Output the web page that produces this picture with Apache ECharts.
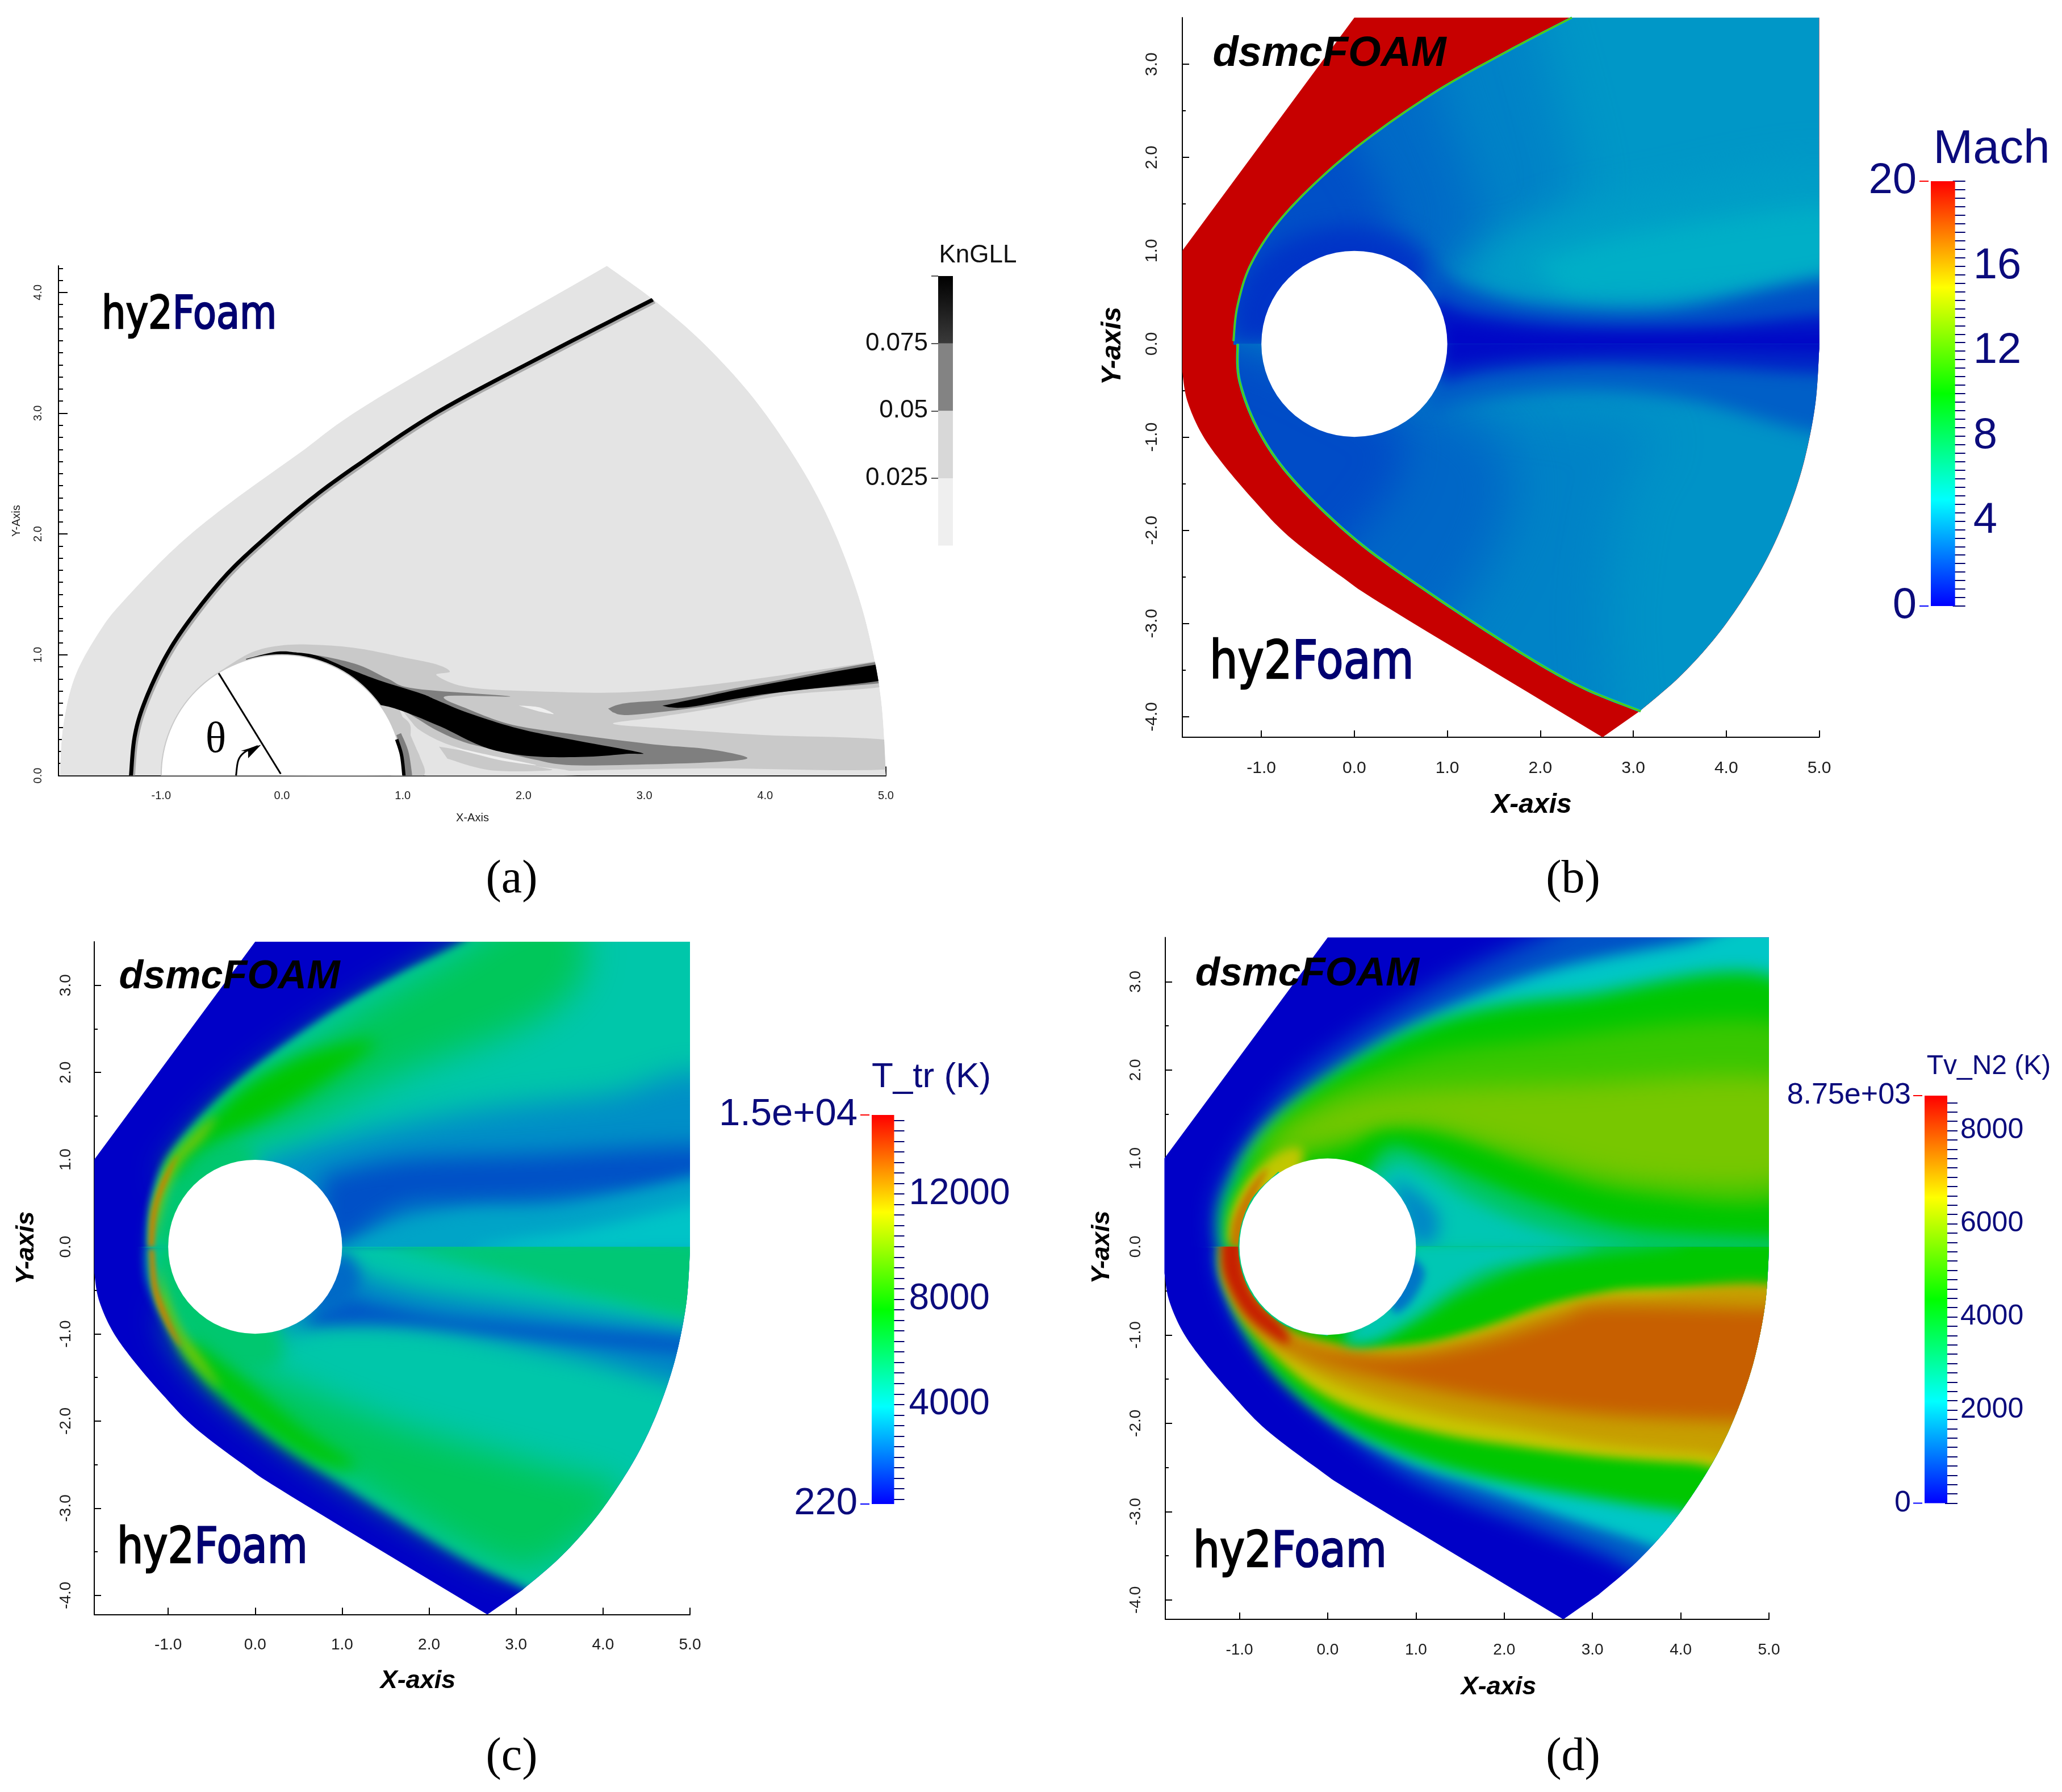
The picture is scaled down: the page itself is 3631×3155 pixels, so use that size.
<!DOCTYPE html>
<html>
<head>
<meta charset="utf-8">
<title>hy2Foam / dsmcFOAM cylinder flow</title>
<script src="https://cdn.jsdelivr.net/npm/echarts@6/dist/echarts.min.js"></script>
<style>
  html, body { margin: 0; padding: 0; background: #fff; }
  #chart { width: 3631px; height: 3155px; }
</style>
</head>
<body>
<div id="chart"></div>
<script>
// ---------- tick labels ----------
const xTicks = [-1, 0, 1, 2, 3, 4, 5]
const yTicksA = [0, 1, 2, 3, 4]
const yTicksFull = [-4, -3, -2, -1, 0, 1, 2, 3]
const yMinorFull = [-4, -3.5, -3, -2.5, -2, -1.5, -1, -0.5, 0, 0.5, 1, 1.5, 2, 2.5, 3]
const knLabels = [0.025, 0.05, 0.075]
const knBands = [0, 0.025, 0.05, 0.075, 0.1]
const machLabels = [4, 8, 12, 16]
const ttrLabels = [4000, 8000, 12000]
const tvLabels = [2000, 4000, 6000, 8000]

// ---------- shared geometry (x, y in cylinder radii) ----------
const outerUpper = [[-1.85, 1], [0, 3.5], [5, 3.5], [5, 0]]
const outerLower = [[-1.85, -0.3], [-1.8, -0.6], [-1.65, -0.95], [-1.42, -1.28], [-1.07, -1.69], [-0.7, -2.07], [-0.12, -2.51], [0.41, -2.86], [2.67, -4.22]]
const rightArc = [[3.07, -3.94], [3.5, -3.57], [3.9, -3.13], [4.25, -2.63], [4.5, -2.18], [4.7, -1.7], [4.85, -1.21], [4.96, -0.63], [5, -0.05]]

// ---------- (a) KnGLL, flat grey bands ----------
const knOuter = [[-1.84, 0], [-1.81, 0.42], [-1.71, 0.83], [-1.5, 1.21], [-1.3, 1.46], [-0.89, 1.88], [-0.48, 2.22], [0.13, 2.66], [0.8, 3.13], [2.69, 4.22]]
const knArc = [[2.69, 4.22], [3.1, 3.92], [3.5, 3.57], [3.9, 3.13], [4.25, 2.63], [4.5, 2.18], [4.7, 1.7], [4.85, 1.21], [4.96, 0.63], [5, 0]]
const knShock = [[-1.25, 0], [-1.22, 0.32], [-1.14, 0.6], [-0.97, 0.97], [-0.77, 1.28], [-0.48, 1.64], [-0.18, 1.93], [0.23, 2.28], [0.64, 2.58], [1.29, 3.01], [2.21, 3.5], [3.07, 3.94]]
const knBlob = [[-0.52, 0.86], [-0.25, 1.02], [0.02, 1.08], [0.34, 1.08], [0.65, 1.05], [1, 0.98], [1.28, 0.92], [1.39, 0.86], [1.28, 0.83], [1.55, 0.73], [2.18, 0.695], [2.85, 0.69], [3.53, 0.75], [4.2, 0.84], [4.9, 0.945], [5.1, 0.98], [5.1, 0.76], [4.2, 0.67], [3.53, 0.55], [3.08, 0.48], [2.74, 0.43], [3.17, 0.39], [3.98, 0.336], [5.1, 0.28], [5.1, 0.06], [3.53, 0.06], [2.4, 0.04], [0.9, 0], [0, 0]]
const knCut = [[0.95, 0.6], [1.06, 0.46], [1.15, 0.37], [1.37, 0.26], [1.73, 0.156], [2.09, 0.08], [2.36, 0.044], [2.4, 0], [1.17, 0], [1.14, 0.16]]
const knNearWall = [[0.88, 0.56], [1.05, 0.44], [1.07, 0.3], [1.14, 0.16], [1.17, 0], [0.9, 0]]
const knLobe = [[1.3, 0.24], [1.64, 0.18], [2.09, 0.08], [2.22, 0.044], [1.73, 0.044], [1.37, 0.14]]
const knStreak = [[1.42, 0.235], [1.78, 0.156], [2.11, 0.086], [1.82, 0.125], [1.48, 0.21]]
const knGrey = [[0.11, 1.02], [0.38, 0.98], [0.65, 0.91], [0.88, 0.8], [1.1, 0.72], [1.89, 0.656], [1.35, 0.656], [1.55, 0.547], [1.91, 0.42], [2.4, 0.344], [3.08, 0.258], [3.53, 0.219], [3.85, 0.15], [3.66, 0.117], [3.08, 0.094], [2.4, 0.086], [2.09, 0.133], [1.73, 0.22], [1.5, 0.28], [1.28, 0.375], [0.88, 0.594], [0.5, 0.6]]
const knBlack = [[-0.3, 0.965], [-0.05, 1.025], [0.11, 1.02], [0.3, 0.99], [0.54, 0.89], [0.8, 0.79], [1.15, 0.68], [1.28, 0.625], [1.55, 0.516], [1.955, 0.39], [2.4, 0.297], [2.97, 0.19], [2.85, 0.18], [2.54, 0.156], [2.13, 0.156], [1.82, 0.195], [1.6, 0.266], [1.28, 0.42], [0.84, 0.58], [0.4, 0.6]]
const knJetGrey = [[2.7, 0.555], [2.85, 0.6], [3.3, 0.64], [3.98, 0.766], [5.1, 0.96], [5.1, 0.79], [4.2, 0.7], [3.53, 0.578], [2.9, 0.503], [2.74, 0.523]]
const knJetBlack = [[3.15, 0.578], [3.44, 0.64], [3.98, 0.75], [5.1, 0.94], [5.1, 0.81], [3.98, 0.672], [3.39, 0.57], [3.2, 0.566]]
const knSliver = [[1.96, 0.58], [2.13, 0.565], [2.25, 0.51], [2.13, 0.53]]
const knWall = [[1.01, 0], [0.99, 0.17], [0.95, 0.3]]
const knWallGrey = [[1.05, 0], [1.02, 0.19], [0.96, 0.34]]
const thetaRay = [[-0.524, 0.847], [-0.01, 0.014]]
const thetaArc = [[-0.38, 0], [-0.36, 0.13], [-0.3, 0.2], [-0.2, 0.245]]
const thetaHead = [[-0.173, 0.255], [-0.34, 0.204], [-0.28, 0.2], [-0.28, 0.143]]

// ---------- (b) Mach ----------
const machShockUpper = [[-1.3, 0.03], [-1.255, 0.415], [-1.1, 0.88], [-0.73, 1.41], [-0.05, 2.05], [0.82, 2.67], [1.63, 3.13], [2.34, 3.5]]
const machShockLower = [[-1.255, 0], [-1.234, -0.4], [-1.03, -0.93], [-0.66, -1.456], [0.013, -2.1], [0.82, -2.68], [1.77, -3.3], [2.44, -3.68], [3.08, -3.94]]
const machUpperBase = 3.8
const machUpperLevels = [3.3, 2.7, 2.0, 1.3, 4.0, 4.4, 2.0, 0.6, 0.2]
const machU33 = [[1.9, 3.7], [2.2, 2.6], [2.4, 1.6], [2.0, 1.0], [1.2, 0.9], [-2, 0], [-2, 3.7]]
const machU27 = [[0.6, 3.7], [1.0, 2.4], [1.3, 1.6], [1.3, 1.0], [0.5, 0.6], [-2, 0], [-2, 3.7]]
const machU20a = [[-0.3, 2.6], [0.2, 1.8], [0.4, 1.3], [0.2, 0.8], [-2, 0], [-2, 2.6]]
const machU13 = [[-1.35, 0], [-1.25, 0.6], [-0.85, 1.05], [-0.2, 1.25], [0.4, 1.18], [0.8, 0.9], [0.9, 0]]
const machU40 = [[1.2, 0.8], [1.9, 1.3], [3.1, 1.6], [5.3, 1.9], [5.3, 0.7], [3.45, 0.45], [2.1, 0.45], [1.43, 0.6]]
const machU44 = [[1.9, 0.85], [3.1, 1.2], [5.3, 1.45], [5.3, 0.78], [3.45, 0.52], [2.3, 0.52]]
const machU20 = [[0.8, 0.85], [1.2, 0.62], [2, 0.42], [3.4, 0.38], [5.3, 0.7], [5.3, -0.1], [0.8, -0.1]]
const machU06 = [[0.85, 0.5], [1.3, 0.33], [2.4, 0.2], [3.8, 0.2], [5.3, 0.3], [5.3, -0.1], [0.8, -0.1]]
const machU02 = [[1, 0.22], [2, 0.1], [3.5, 0.08], [5.3, 0.1], [5.3, -0.1], [1, -0.1]]
const machLowerBase = 3.7
const machLowerLevels = [3.3, 2.6, 1.9, 2.4, 0.9, 0.3]
const machL33 = [[2.8, -4.3], [2.7, -2.8], [2.9, -1.5], [3.1, -0.9], [0.5, -0.5], [-2, 0], [-2, -4.3]]
const machL26 = [[0.9, -3.2], [1.4, -2.4], [1.7, -1.6], [1.5, -1], [0.5, -0.5], [-2, 0], [-2, -3.2]]
const machL19 = [[-0.2, -2.3], [0.3, -1.7], [0.5, -1.3], [0.3, -0.8], [-2, 0], [-2, -2.3]]
const machL24 = [[0.75, -0.75], [1.5, -0.58], [2.5, -0.5], [3.6, -0.6], [5.3, -0.95], [5.3, 0.1], [0.8, 0.1]]
const machL09 = [[0.95, -0.42], [1.5, -0.3], [2.5, -0.22], [3.8, -0.25], [5.3, -0.3], [5.3, 0.1], [0.8, 0.1]]
const machL03 = [[1, -0.22], [2, -0.1], [3.5, -0.06], [5.3, -0.08], [5.3, 0.1], [1, 0.1]]

// ---------- (c) T_tr ----------
const ttrUpperLevels = [4300, 2700, 1500, 3100, 3700, 5800, 5400, 7500, 9800, 12500]
const ttrU4300 = [[-1.24, -0.05], [-1.22, 0.35], [-1.08, 0.88], [-0.7, 1.41], [-0.02, 2.05], [0.85, 2.67], [1.66, 3.13], [2.4, 3.5], [3, 3.9], [5.3, 3.9], [5.3, -0.1]]
const ttrU2700 = [[-0.1, 0.95], [0.92, 1.25], [2.45, 1.56], [4, 1.74], [5.3, 1.9], [5.3, -0.1], [0.9, -0.1]]
const ttrU1500 = [[0.76, 0.81], [1.68, 1], [3.22, 1.06], [5.3, 1.14], [5.3, 0.78], [3.6, 0.56], [2.45, 0.5], [1.68, 0.44], [1.07, 0.06], [0.76, 0]]
const ttrU3100 = [[5.3, 0.86], [3.6, 0.47], [2.45, 0.42], [1.68, 0.27], [1.07, 0], [1.07, -0.1], [5.3, -0.1]]
const ttrU3700 = [[5.3, 0.55], [3.8, 0.2], [3, 0.08], [2.6, -0.05], [5.3, -0.05]]
const ttrU5800 = [[-1.08, 0.75], [-0.32, 1.62], [0.92, 2.55], [2.3, 3.36], [2.9, 3.74], [3.6, 3.9], [3.8, 3.2], [3.22, 2.6], [1.68, 2], [0.53, 1.43], [-0.39, 1.12], [-0.89, 0.81]]
const ttrU5400 = [[-1.18, -0.05], [-1.12, 0.4], [-0.95, 0.85], [-0.6, 1.2], [-0.2, 1.25], [0, 1], [-0.2, 0.5], [-0.5, -0.05]]
const ttrU7500 = [[-1, 0.93], [-0.24, 1.74], [0.38, 2.12], [0.92, 2.3], [1.38, 2.34], [0.76, 1.87], [0.15, 1.5], [-0.62, 1.12], [-0.97, 0.75]]
const ttrU9800 = [[-1.18, 0.44], [-1, 0.95], [-0.7, 1.3], [-0.45, 1.5], [-0.6, 1.25], [-0.85, 0.98], [-1.02, 0.62], [-1.12, 0.25], [-1.15, 0]]
const ttrU12500 = [[-1.23, 0], [-1.2, 0.37], [-1.08, 0.75], [-0.89, 1.06], [-0.99, 0.81], [-1.12, 0.44], [-1.16, 0]]
const ttrLowerLevels = [4300, 2500, 1700, 2000, 5300, 5800, 5400, 7300, 9800, 12500]
const ttrL4300 = [[-1.24, 0.05], [-1.22, -0.4], [-1, -0.87], [-0.63, -1.42], [0.05, -2.06], [0.85, -2.62], [1.8, -3.22], [2.48, -3.62], [3.1, -3.92], [3.8, -4.3], [5.3, -4.3], [5.3, 0.05]]
const ttrL2500 = [[1.07, -0.25], [1.84, -0.5], [3.22, -0.69], [4.93, -0.9], [5.3, -0.92], [5.3, -1.62], [3.6, -1.25], [2.07, -0.93], [0.92, -0.87], [0.15, -1], [0.53, -0.62], [1, 0]]
const ttrL1700 = [[0.95, -0.56], [2.07, -0.78], [3.22, -0.9], [5, -1.06], [5.3, -1.25], [3.22, -1.06], [1.68, -0.9], [0.53, -0.9]]
const ttrL2000 = [[1, -0.05], [1.2, -0.3], [1.1, -0.6], [0.8, -0.75], [0.6, -0.5]]
const ttrL5300 = [[1.38, 0.05], [5.3, 0.05], [5.3, -0.81], [4, -0.59], [2.84, -0.31], [1.84, -0.06]]
const ttrL5800 = [[-1.08, -0.75], [-0.62, -1.43], [0.3, -2.18], [1.38, -2.87], [2.6, -3.55], [3.22, -3.68], [3.84, -3.3], [4.22, -2.8], [3.22, -2.49], [1.68, -2.06], [0.53, -1.62], [-0.39, -1.18], [-0.85, -0.81]]
const ttrL5400 = [[-1.18, 0.05], [-1.12, -0.4], [-0.92, -0.85], [-0.55, -1.3], [-0.1, -1.45], [0.3, -1.3], [0.2, -0.8], [-0.5, 0.05]]
const ttrL7300 = [[-0.85, -1.12], [-0.47, -1.62], [0.3, -2.24], [0.84, -2.52], [1.15, -2.49], [0.53, -2.06], [-0.24, -1.43], [-0.66, -1.12]]
const ttrL9800 = [[-1.1, -0.65], [-0.88, -1.12], [-0.6, -1.45], [-0.4, -1.62], [-0.6, -1.3], [-0.85, -0.95], [-1.02, -0.55], [-1.12, -0.2]]
const ttrL12500 = [[-1.22, -0.03], [-1.18, -0.5], [-1.02, -0.9], [-0.85, -1.15], [-1, -0.8], [-1.12, -0.45], [-1.16, -0.03]]

// ---------- (d) Tv_N2 ----------
const tvUpperLevels = [900, 2188, 4375, 5000, 5700, 6500, 7400, 4375, 3300, 2400, 1500]
const tvU900 = [[-1.24, -0.1], [-1.22, 0.62], [-0.57, 1.66], [0.29, 2.37], [1.36, 3.02], [2.37, 3.5], [3.2, 3.88], [5.3, 3.9], [5.3, -0.1]]
const tvU2188 = [[-1.2, -0.1], [-1.18, 0.49], [-0.79, 1.23], [-0.07, 1.85], [1, 2.53], [2.44, 3.11], [4.09, 3.45], [5.66, 3.7], [5.7, -0.1]]
const tvU4375 = [[-1.16, -0.1], [-1.15, 0.55], [-0.57, 1.42], [0.29, 2.09], [1.36, 2.59], [2.8, 2.83], [5.3, 2.9], [5.3, -0.1]]
const tvU5000 = [[-1, 0.8], [-0.43, 1.48], [0.65, 2.03], [2.08, 2.31], [5.3, 2.46], [5.3, 0.62], [3.51, 0.62], [2.08, 0.99], [1.08, 1.29], [0.5, 1.23], [0, 1.1]]
const tvU5700 = [[-0.8, 1], [-0.29, 1.42], [0.65, 1.73], [2.8, 1.85], [5.3, 1.85], [5.3, 0.8], [3.51, 0.75], [2.08, 1.1], [1.08, 1.35], [0.3, 1.25], [-0.4, 1.1]]
const tvU6500 = [[-1.13, 0], [-1.1, 0.37], [-0.92, 0.74], [-0.66, 1], [-0.42, 1.12], [-0.28, 1.05], [-0.4, 0.5]]
const tvU7400 = [[-1.1, 0], [-1.07, 0.3], [-0.9, 0.65], [-0.68, 0.88], [-0.85, 0.48], [-0.97, 0]]
const tvUWake4375 = [[5.3, 0.32], [3.51, 0.37], [2.44, 0.74], [1.65, 1.11], [0.93, 1.29], [0.43, 1.2], [0.1, 0.5], [0.5, -0.1], [5.3, -0.1]]
const tvUWake3300 = [[5.3, 0.1], [3.51, 0.2], [2.44, 0.49], [1.65, 0.8], [1.08, 1.05], [0.65, 1.12], [0.3, 0.5], [0.5, -0.1], [5.3, -0.1]]
const tvUWake2400 = [[3.6, -0.05], [2.9, 0.08], [2.2, 0.28], [1.6, 0.55], [1.1, 0.85], [0.75, 0.95], [0.4, 0.5], [0.5, -0.1]]
const tvUWake1500 = [[0.72, 0.78], [1, 0.62], [1.25, 0.36], [1.2, 0.05], [0.95, 0.05]]
const tvLowerLevels = [1100, 2188, 4375, 6563, 7000, 7700, 8400, 3300, 2400, 1300]
const tvL1100 = [[-1.24, 0.1], [-1.22, -0.3], [-0.95, -0.93], [-0.27, -1.71], [0.86, -2.56], [2.21, -3.12], [3.11, -3.47], [3.48, -3.65], [4.2, -4], [5.3, -4.2], [5.3, 0.1]]
const tvL2188 = [[-1.22, 0.1], [-1.2, -0.35], [-0.81, -1.11], [-0.045, -1.89], [0.86, -2.42], [1.76, -2.73], [2.66, -3.05], [3.57, -3.35], [4.4, -3.65], [5.3, -3.9], [5.3, 0.1]]
const tvL4375 = [[-1.18, 0.1], [-1.17, -0.3], [-0.9, -1], [-0.5, -1.53], [0.18, -2.03], [1.08, -2.42], [1.99, -2.66], [3.11, -2.86], [3.93, -2.98], [5.3, -3.1], [5.3, 0.1]]
const tvL6563 = [[-1.15, 0.1], [-1.17, -0.37], [-0.86, -0.93], [-0.27, -1.53], [0.41, -1.89], [1.31, -2.13], [2.21, -2.27], [3.11, -2.38], [4.11, -2.45], [5.3, -2.5], [5.3, -0.48], [4.96, -0.48], [3.57, -0.48], [3.02, -0.55], [2.44, -0.69], [1.76, -0.93], [1.08, -1.11], [0.41, -1.15], [-0.045, -1.09], [-0.5, -0.93], [-0.81, -0.62], [-0.97, -0.26], [-0.97, 0.1]]
const tvL7000 = [[-1.14, 0.1], [-1.12, -0.37], [-0.88, -0.88], [-0.27, -1.36], [0.41, -1.68], [1.31, -1.92], [2.21, -2.08], [3.11, -2.24], [4.2, -2.34], [5.3, -2.38], [5.3, -0.56], [3.57, -0.55], [3.02, -0.6], [2.44, -0.74], [1.76, -0.98], [1.08, -1.16], [0.41, -1.2], [-0.045, -1.13], [-0.5, -0.97], [-0.81, -0.66], [-0.97, -0.3], [-0.97, 0.1]]
const tvL7700 = [[-1.15, 0.1], [-1.1, -0.3], [-0.83, -0.85], [-0.32, -1.2], [0.41, -1.44], [1.76, -1.72], [3.11, -1.9], [4.7, -1.98], [5.3, -2], [5.3, -0.7], [4.92, -0.7], [3.11, -0.67], [2.66, -0.8], [1.76, -1.08], [0.86, -1.24], [0.18, -1.2], [-0.27, -1.09], [-0.68, -0.85], [-0.95, -0.41], [-0.99, 0.1]]
const tvL8400 = [[-1.2, 0.1], [-1.18, -0.3], [-0.98, -0.7], [-0.72, -0.95], [-0.45, -1.1], [-0.5, -0.92], [-0.8, -0.62], [-0.95, -0.3], [-0.98, 0.1]]
const tvL3300 = [[1, 0.05], [4, 0.05], [3, -0.1], [2.2, -0.25], [1.5, -0.55], [1.1, -0.8], [0.55, -1.08], [0.2, -1.05], [0.6, -0.7]]
const tvL2400 = [[0.95, 0.05], [3, 0.05], [2.4, -0.1], [1.8, -0.25], [1.35, -0.5], [0.95, -0.8], [0.5, -1.05], [0.2, -1.02], [0.7, -0.6]]
const tvL1300 = [[0.95, -0.1], [1.1, -0.3], [0.95, -0.62], [0.75, -0.75], [0.7, -0.5]]

// ---------- colours ----------
const NAVY = '#0b0b7c'
const TICK_NAVY = '#00006a'
const rainbowStops = ['#0000ff', '#00ffff', '#00ff00', '#ffff00', '#ff0000']
const FIELD_SHADE = 0.78

function fieldColor(value, vmin, vmax) {
  const t = Math.max(0, Math.min(1, (value - vmin) / (vmax - vmin)))
  const knots = [[0, 0, 255], [0, 255, 255], [0, 255, 0], [255, 255, 0], [255, 0, 0]]
  const i = Math.min(3, Math.floor(t * 4))
  const f = t * 4 - i
  const c = knots[i].map((k, j) => Math.round((k + (knots[i + 1][j] - k) * f) * FIELD_SHADE))
  return `rgb(${c[0]},${c[1]},${c[2]})`
}

// ---------- drawing helpers ----------
// 把数据点转成屏幕坐标, 再做 Catmull-Rom 平滑
function curve(api, pts) {
  const p = pts.map((d) => api.coord(d))
  if (p.length < 3) return p
  const out = []
  for (let i = 0; i < p.length - 1; i++) {
    const a = p[Math.max(0, i - 1)], b = p[i], c = p[i + 1], d = p[Math.min(p.length - 1, i + 2)]
    for (let s = 0; s < 10; s++) {
      const t = s / 10, t2 = t * t, t3 = t2 * t
      out.push([
        0.5 * (2 * b[0] + (c[0] - a[0]) * t + (2 * a[0] - 5 * b[0] + 4 * c[0] - d[0]) * t2 + (3 * b[0] - a[0] - 3 * c[0] + d[0]) * t3),
        0.5 * (2 * b[1] + (c[1] - a[1]) * t + (2 * a[1] - 5 * b[1] + 4 * c[1] - d[1]) * t2 + (3 * b[1] - a[1] - 3 * c[1] + d[1]) * t3)
      ])
    }
  }
  out.push(p[p.length - 1])
  return out
}

function outline(api, segs) {
  return segs.reduce((acc, s) => acc.concat(curve(api, s)), [])
}

function solid(points, fill) {
  return { type: 'polygon', shape: { points }, style: { fill } }
}

// 只画阴影, 多边形本身放到画布外, 这样边缘是柔和的
const OFF = 9000
function soft(points, fill, blur) {
  return {
    type: 'polygon',
    shape: { points: points.map((p) => [p[0] - OFF, p[1]]) },
    style: { fill, shadowColor: fill, shadowBlur: blur, shadowOffsetX: OFF }
  }
}

function stroke(points, color, lineWidth) {
  return { type: 'polyline', shape: { points }, style: { stroke: color, lineWidth, fill: null, lineJoin: 'round' } }
}

function disc(api, fill, strokeColor) {
  const c = api.coord([0, 0])
  const r = api.size([1, 1])[0]
  return {
    type: 'circle',
    shape: { cx: c[0], cy: c[1], r },
    style: { fill, stroke: strokeColor || null, lineWidth: 2 }
  }
}

function clipped(points, children) {
  return { type: 'group', clipPath: { type: 'polygon', shape: { points } }, children }
}

function softStack(api, contours, levels, blurs, vmin, vmax) {
  return contours.map((c, i) => soft(curve(api, c), fieldColor(levels[i], vmin, vmax), blurs[i]))
}

// ---------- panel renderers ----------
// 上半区多算一点点, 避免和下半区之间出现细缝
function domainUpper(api) {
  return [[-1.85, -0.01]].concat(outerUpper, [[5, -0.01]]).map((d) => api.coord(d))
}
function domainLower(api) {
  return [api.coord([-1.85, 0])].concat(outline(api, [outerLower, rightArc]), [api.coord([5, 0])])
}
function domainAll(api) {
  return outerUpper.map((d) => api.coord(d)).concat(curve(api, rightArc.slice().reverse()), curve(api, outerLower.slice().reverse()))
}

function renderKn(params, api) {
  const grey = { light: '#c9c9c9', bg: '#e4e4e4', pale: '#efefef', mid: '#7f7f7f', black: '#000000' }
  const fill = (pts, color) => solid(curve(api, pts), color)
  const domain = outline(api, [knOuter, knArc])
  const shockInner = knShock.map((d) => [d[0] + 0.012, d[1] - 0.012])
  return {
    type: 'group',
    children: [
      clipped(domain, [
        solid(domain, grey.bg),
        fill(knBlob, grey.light),
        fill(knCut, grey.bg),
        fill(knNearWall, grey.light),
        fill(knLobe, grey.light),
        fill(knStreak, grey.pale),
        fill(knSliver, grey.pale),
        fill(knGrey, grey.mid),
        fill(knBlack, grey.black),
        fill(knJetGrey, grey.mid),
        fill(knJetBlack, grey.black),
        stroke(curve(api, knWallGrey), grey.mid, 12),
        stroke(curve(api, shockInner), '#aaaaaa', 9),
        stroke(curve(api, knShock), grey.black, 7),
        disc(api, '#ffffff', grey.light),
        stroke(curve(api, knWall), grey.black, 6),
        stroke(curve(api, thetaRay), grey.black, 3),
        stroke(curve(api, thetaArc), grey.black, 3),
        solid(thetaHead.map((d) => api.coord(d)), grey.black)
      ])
    ]
  }
}

function renderMach(params, api) {
  const upper = curve(api, machShockUpper).concat([api.coord([5, 3.5]), api.coord([5, -0.01]), api.coord([-1.3, -0.01])])
  const lower = [api.coord([-1.255, 0])].concat(outline(api, [machShockLower, rightArc]), [api.coord([5, 0])])
  const base = (v) => fieldColor(v, 0, 20)
  return {
    type: 'group',
    children: [
      solid(domainAll(api), base(20)),
      clipped(upper, [solid(upper, base(machUpperBase))].concat(
        softStack(api, [machU33, machU27, machU20a, machU13, machU40, machU44, machU20, machU06, machU02],
          machUpperLevels, [90, 90, 70, 40, 70, 40, 30, 26, 20], 0, 20))),
      clipped(lower, [solid(lower, base(machLowerBase))].concat(
        softStack(api, [machL33, machL26, machL19, machL24, machL09, machL03],
          machLowerLevels, [90, 90, 70, 30, 26, 20], 0, 20))),
      stroke(curve(api, machShockLower), '#00c8a0', 5),
      stroke(curve(api, machShockUpper), '#00c8a0', 4),
      stroke(curve(api, machShockLower), '#60c800', 2.5),
      stroke(curve(api, machShockUpper), '#60c800', 2.5),
      disc(api, '#ffffff')
    ]
  }
}

function renderTtr(params, api) {
  const blue = fieldColor(0, 0, 15000)
  return {
    type: 'group',
    children: [
      solid(domainAll(api), blue),
      clipped(domainUpper(api), softStack(api,
        [ttrU4300, ttrU2700, ttrU1500, ttrU3100, ttrU3700, ttrU5800, ttrU5400, ttrU7500, ttrU9800, ttrU12500],
        ttrUpperLevels, [14, 50, 40, 26, 26, 60, 30, 30, 18, 8], 0, 15000)),
      clipped(domainLower(api), softStack(api,
        [ttrL4300, ttrL2500, ttrL1700, ttrL2000, ttrL5300, ttrL5800, ttrL5400, ttrL7300, ttrL9800, ttrL12500],
        ttrLowerLevels, [18, 40, 24, 24, 30, 60, 30, 28, 18, 8], 0, 15000)),
      disc(api, '#ffffff')
    ]
  }
}

function renderTv(params, api) {
  const blue = fieldColor(0, 0, 8750)
  const frontRim = [[-0.55, 0.84], [-0.87, 0.5], [-1, 0], [-0.87, -0.5], [-0.5, -0.87], [0, -1]]
  return {
    type: 'group',
    children: [
      solid(domainAll(api), blue),
      clipped(domainUpper(api), softStack(api,
        [tvU900, tvU2188, tvU4375, tvU5000, tvU5700, tvU6500, tvU7400, tvUWake4375, tvUWake3300, tvUWake2400, tvUWake1500],
        tvUpperLevels, [44, 26, 30, 36, 44, 18, 12, 30, 26, 30, 30], 0, 8750)),
      clipped(domainLower(api), softStack(api,
        [tvL1100, tvL2188, tvL4375, tvL6563, tvL7000, tvL7700, tvL8400, tvL3300, tvL2400, tvL1300],
        tvLowerLevels, [36, 20, 24, 18, 22, 30, 16, 24, 22, 14], 0, 8750)),
      stroke(curve(api, frontRim), '#00c878', 4),
      disc(api, '#ffffff')
    ]
  }
}

// ---------- axes ----------
const grids = []
const xAxes = []
const yAxes = []
const series = []

function addGrid(rect) {
  grids.push({ left: rect.left, top: rect.top, width: rect.width, height: rect.height, containLabel: false })
  return grids.length - 1
}

function addPanel(p, render) {
  const rect = { left: p.left, top: p.top, width: p.right - p.left, height: p.bottom - p.top }
  const major = addGrid(rect)
  const baseX = { type: 'value', min: p.xMin, max: p.xMax, splitLine: { show: false }, axisLine: { onZero: false, lineStyle: { color: '#000', width: 2 } } }
  const baseY = { type: 'value', min: p.yMin, max: p.yMax, splitLine: { show: false }, axisLine: { onZero: false, lineStyle: { color: '#000', width: 2 } } }
  const labelStyle = { color: '#1c1c1c', fontFamily: 'Liberation Sans', fontSize: p.fontSize, formatter: (v) => v.toFixed(1) }
  xAxes.push(Object.assign({}, baseX, {
    gridIndex: major, position: 'bottom',
    axisTick: { inside: true, length: p.tick, customValues: xTicks, lineStyle: { color: '#000', width: 2 } },
    axisLabel: Object.assign({}, labelStyle, { customValues: xTicks, margin: p.xMargin })
  }))
  yAxes.push(Object.assign({}, baseY, {
    gridIndex: major, position: 'left',
    axisTick: { inside: true, length: p.tick, customValues: p.yTicks, lineStyle: { color: '#000', width: 2 } },
    axisLabel: Object.assign({}, labelStyle, { customValues: p.yTicks, margin: p.yMargin, rotate: 90 })
  }))
  const minor = addGrid(rect)
  xAxes.push(Object.assign({}, baseX, {
    gridIndex: minor, position: 'bottom', axisLine: { show: false, onZero: false }, axisLabel: { show: false },
    axisTick: { show: !!p.xMinor, inside: true, length: p.minorTick, customValues: p.xMinor || [], lineStyle: { color: '#000', width: 2 } }
  }))
  yAxes.push(Object.assign({}, baseY, {
    gridIndex: minor, position: 'left', axisLine: { show: false, onZero: false }, axisLabel: { show: false },
    axisTick: { inside: true, length: p.minorTick, customValues: p.yMinor, lineStyle: { color: '#000', width: 2 } }
  }))
  series.push({
    type: 'custom', xAxisIndex: major, yAxisIndex: major, silent: true, clip: false, animation: false,
    z: 1, data: [[0, 0]], encode: { x: 0, y: 1 }, renderItem: render
  })
}

function addColorBar(b) {
  const h = b.bottom - b.top
  const barW = b.right - b.left
  const hiddenX = { type: 'value', min: 0, max: 1, show: false }
  const yBase = { type: 'value', min: b.min, max: b.max, splitLine: { show: false }, axisLine: { show: false, onZero: false } }
  const navyLabel = { color: NAVY, fontFamily: 'Liberation Sans', fontSize: b.fontSize, padding: [b.drop, 0, 0, 0], formatter: (v) => String(v) }

  const g0 = addGrid({ left: b.left, top: b.top, width: barW, height: h })
  xAxes.push(Object.assign({ gridIndex: g0 }, hiddenX))
  yAxes.push(Object.assign({}, yBase, {
    gridIndex: g0, position: 'left', axisTick: { show: false },
    axisLabel: { color: NAVY, fontFamily: 'Liberation Sans', fontSize: b.endFontSize, margin: b.endMargin, padding: [b.drop, 0, 0, 0], customValues: [b.min, b.max], formatter: (v) => (v === b.min ? b.minLabel : b.maxLabel) }
  }))
  series.push({
    type: 'custom', xAxisIndex: g0, yAxisIndex: g0, silent: true, clip: false, animation: false, z: 1,
    data: [[0, b.min]], encode: { x: 0, y: 1 },
    renderItem: b.render
  })

  const g1 = addGrid({ left: b.left, top: b.top, width: barW - 4, height: h })
  xAxes.push(Object.assign({ gridIndex: g1 }, hiddenX))
  yAxes.push(Object.assign({}, yBase, {
    gridIndex: g1, position: 'right', axisLabel: { show: false },
    axisTick: { length: 22, customValues: b.minorTicks, lineStyle: { color: TICK_NAVY, width: 2 } }
  }))

  const g2 = addGrid({ left: b.left, top: b.top, width: barW - 18, height: h })
  xAxes.push(Object.assign({ gridIndex: g2 }, hiddenX))
  yAxes.push(Object.assign({}, yBase, {
    gridIndex: g2, position: 'right',
    axisTick: { length: 36, customValues: b.labels, lineStyle: { color: TICK_NAVY, width: 2 } },
    axisLabel: Object.assign({}, navyLabel, { customValues: b.labels, margin: b.margin })
  }))
}

function rainbowBar(min, max) {
  return function (params, api) {
    const tl = api.coord([0, max])
    const br = api.coord([1, min])
    const ends = [[max, '#ff0000', tl[1]], [min, '#0000ff', br[1]]]
    return {
      type: 'group',
      children: [{
        type: 'rect',
        shape: { x: tl[0], y: tl[1], width: br[0] - tl[0], height: br[1] - tl[1] },
        style: {
          fill: new echarts.graphic.LinearGradient(0, 1, 0, 0, rainbowStops.map((color, i) => ({ offset: i / 4, color })))
        }
      }].concat(ends.map((e) => ({
        type: 'line',
        shape: { x1: tl[0] - 20, y1: e[2], x2: tl[0] - 4, y2: e[2] },
        style: { stroke: e[1], lineWidth: 2 }
      })))
    }
  }
}

function knBar(params, api) {
  const greys = ['#efefef', '#d8d8d8', '#838383', '#1e1e1e']
  const children = greys.map((g, i) => {
    const tl = api.coord([0, knBands[i + 1]])
    const br = api.coord([1, knBands[i]])
    const fill = i === 3 ? new echarts.graphic.LinearGradient(0, 1, 0, 0, [{ offset: 0, color: '#3a3a3a' }, { offset: 1, color: '#000' }]) : g
    return { type: 'rect', shape: { x: tl[0], y: tl[1], width: br[0] - tl[0], height: br[1] - tl[1] }, style: { fill } }
  })
  return { type: 'group', children }
}

function steps(from, to, step) {
  const out = []
  for (let i = 0; from + i * step <= to + 1e-9; i++) out.push(+(from + i * step).toFixed(2))
  return out
}

addPanel({
  left: 103, right: 1560, top: 468, bottom: 1365.5, xMin: -1.85, xMax: 5, yMin: 0, yMax: 4.22,
  yTicks: yTicksA, yMinor: steps(0, 4.2, 0.1), xMinor: steps(-1.8, 5, 0.1),
  fontSize: 20, tick: 16, minorTick: 8, xMargin: 26, yMargin: 26
}, renderKn)

addPanel({
  left: 2082, right: 3203.5, top: 31, bottom: 1298, xMin: -1.85, xMax: 5, yMin: -4.22, yMax: 3.5,
  yTicks: yTicksFull, yMinor: yMinorFull, fontSize: 30, tick: 12, minorTick: 6, xMargin: 40, yMargin: 38
}, renderMach)

addPanel({
  left: 166, right: 1215, top: 1658, bottom: 2842.6, xMin: -1.85, xMax: 5, yMin: -4.22, yMax: 3.5,
  yTicks: yTicksFull, yMinor: yMinorFull, fontSize: 28, tick: 12, minorTick: 6, xMargin: 40, yMargin: 36
}, renderTtr)

addPanel({
  left: 2052, right: 3115, top: 1650.6, bottom: 2851, xMin: -1.84, xMax: 5, yMin: -4.22, yMax: 3.5,
  yTicks: yTicksFull, yMinor: yMinorFull, fontSize: 28, tick: 12, minorTick: 6, xMargin: 40, yMargin: 38
}, renderTv)

addColorBar({
  left: 3400, right: 3442.7, top: 319, bottom: 1067, min: 0, max: 20, minLabel: '0', maxLabel: '20',
  labels: machLabels, minorTicks: steps(0, 20, 0.4), fontSize: 76, endFontSize: 76, margin: 50, endMargin: 25, drop: 12,
  render: rainbowBar(0, 20)
})
addColorBar({
  left: 1535, right: 1574.5, top: 1963, bottom: 2648, min: 220, max: 15000, minLabel: '220', maxLabel: '1.5e+04',
  labels: ttrLabels, minorTicks: steps(400, 14800, 400), fontSize: 64, endFontSize: 67, margin: 44, endMargin: 25, drop: 10,
  render: rainbowBar(220, 15000)
})
addColorBar({
  left: 3389, right: 3429, top: 1929, bottom: 2646.5, min: 0, max: 8750, minLabel: '0', maxLabel: '8.75e+03',
  labels: tvLabels, minorTicks: steps(0, 8600, 200), fontSize: 50, endFontSize: 52, margin: 41, endMargin: 24, drop: 8,
  render: rainbowBar(0, 8750)
})
// KnGLL bar: labels on the left only
const gKn = addGrid({ left: 1652, top: 486, width: 26, height: 474.5 })
xAxes.push({ gridIndex: gKn, type: 'value', min: 0, max: 1, show: false })
yAxes.push({
  gridIndex: gKn, type: 'value', min: 0, max: 0.1, position: 'left', splitLine: { show: false },
  axisLine: { show: false, onZero: false },
  axisTick: { length: 12, customValues: knLabels.concat([0.1]), lineStyle: { color: '#555', width: 2 } },
  axisLabel: { color: '#111', fontFamily: 'Liberation Sans', fontSize: 44, margin: 18, padding: [6, 0, 0, 0], customValues: knLabels, formatter: (v) => String(v) }
})
series.push({
  type: 'custom', xAxisIndex: gKn, yAxisIndex: gKn, silent: true, clip: false, animation: false, z: 1,
  data: [[0, 0]], encode: { x: 0, y: 1 }, renderItem: knBar
})

// ---------- free text ----------
function text(x, y, str, font, color, opts) {
  return Object.assign({
    type: 'text', x, y, z: 50, silent: true,
    style: Object.assign({
      text: str, fill: color || '#000', font,
      textAlign: 'center', textVerticalAlign: 'middle'
    }, (opts && opts.style) || {})
  }, (opts && opts.el) || {})
}

function logo(x, baseline, width) {
  const size = width * 0.255
  return {
    type: 'text', x, y: baseline + 0.24 * size, z: 50, silent: true, scaleX: 0.845,
    style: {
      text: '{k|hy2}{n|Foam}', textAlign: 'left', textVerticalAlign: 'bottom',
      rich: {
        k: { fill: '#000', stroke: '#000', lineWidth: 2.5, font: `${size}px "DejaVu Sans"` },
        n: { fill: '#000070', stroke: '#000070', lineWidth: 2.5, font: `${size}px "DejaVu Sans"` }
      }
    }
  }
}

const boldItalic = (s) => `italic bold ${s}px "Liberation Sans"`
const caption = '82px "Liberation Serif"'
const plain = (s) => `${s}px "Liberation Sans"`

const graphics = [
  text(901, 1549, '(a)', caption),
  text(2770, 1549, '(b)', caption),
  text(901, 3094, '(c)', caption),
  text(2770, 3094, '(d)', caption),

  text(832, 1440, 'X-Axis', plain(20), '#1c1c1c'),
  text(29.5, 917, 'Y-Axis', plain(20), '#1c1c1c', { el: { rotation: Math.PI / 2 } }),
  text(2697, 1418, 'X-axis', boldItalic(48)),
  text(1960, 609, 'Y-axis', boldItalic(48), '#000', { el: { rotation: Math.PI / 2 } }),
  text(736, 2960, 'X-axis', boldItalic(45)),
  text(47, 2197, 'Y-axis', boldItalic(45), '#000', { el: { rotation: Math.PI / 2 } }),
  text(2639, 2971, 'X-axis', boldItalic(45)),
  text(1941, 2196, 'Y-axis', boldItalic(45), '#000', { el: { rotation: Math.PI / 2 } }),

  text(2341, 96, 'dsmcFOAM', boldItalic(74)),
  text(404, 1721, 'dsmcFOAM', boldItalic(70)),
  text(2302, 1715, 'dsmcFOAM', boldItalic(71)),

  text(3507, 264, 'Mach', plain(84), NAVY),
  text(1640, 1897, 'T_tr (K)', plain(62), NAVY),
  text(3502, 1878, 'Tv_N2 (K)', plain(48), NAVY),
  text(1722, 450, 'KnGLL', plain(44), '#111'),
  text(380, 1304, '\u03B8', '76px "Liberation Serif"'),

  logo(179, 578, 311),
  logo(2130, 1194, 363),
  logo(206, 2751, 339),
  logo(2101, 2758, 344)
]

const chart = echarts.init(document.getElementById('chart'), null, { renderer: 'canvas' })
chart.setOption({
  animation: false,
  backgroundColor: '#ffffff',
  grid: grids,
  xAxis: xAxes,
  yAxis: yAxes,
  series,
  graphic: { elements: graphics }
})
</script>
</body>
</html>
